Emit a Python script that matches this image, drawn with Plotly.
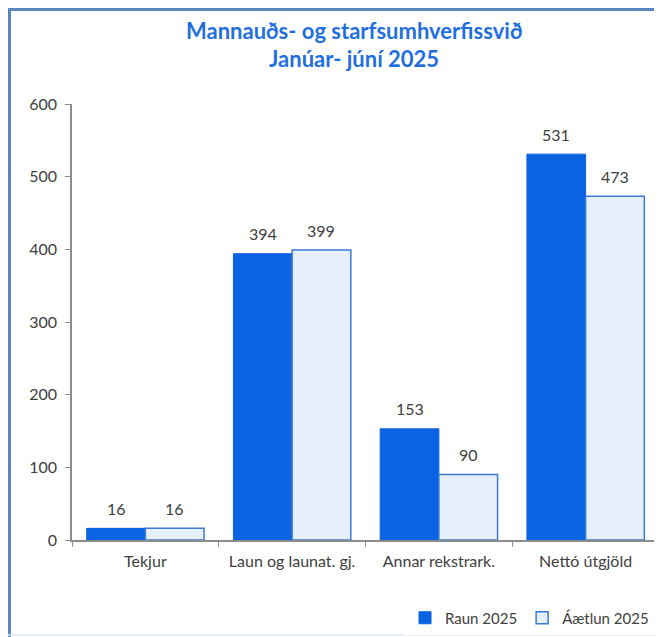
import plotly.graph_objects as go

categories = ["Tekjur", "Laun og launat. gj.", "Annar rekstrark.", "Nettó útgjöld"]
raun_2025 = [16, 394, 153, 531]
aaetlun_2025 = [16, 399, 90, 473]
series_names = ["Raun 2025", "Áætlun 2025"]
title_lines = ["Mannauðs- og starfsumhverfissvið", "Janúar- júní 2025"]
y_ticks = [0, 100, 200, 300, 400, 500, 600]

OFF = 8  # page body margin
W, H = 662 - OFF, 637 - OFF
L, R, T, B = 72 - OFF, 3, 104 - OFF, 97
PW, PH = W - L - R, H - T - B
BARGAP = 0.2

def px(x):
    return (x - OFF - L) / PW

def py(y):
    return (H - B - (y - OFF)) / PH

FONT = "Lato"
TXT = "#404040"
FS = 16

fig = go.Figure()
fig.add_trace(go.Bar(
    x=categories, y=raun_2025, name=series_names[0],
    marker=dict(color="#0A63E0", line=dict(color="#0A63E0", width=1)),
))
fig.add_trace(go.Bar(
    x=categories, y=aaetlun_2025, name=series_names[1],
    marker=dict(color="#E6F0FD", line=dict(color="#3B7BD6", width=1.5)),
))

# data labels, anchored to the bars through the axis scales
half_bar = PW / len(categories) * (1 - BARGAP) / 4
for vals, sh in ((raun_2025, -half_bar), (aaetlun_2025, half_bar)):
    for c, v in zip(categories, vals):
        fig.add_annotation(x=c, y=v, xref="x", yref="y", text=str(v), showarrow=False,
                           xshift=sh, yshift=20, yanchor="middle",
                           font=dict(family=FONT, size=FS, color=TXT))

fig.update_layout(
    width=W, height=H,
    margin=dict(l=L, r=R, t=T, b=B),
    paper_bgcolor="white", plot_bgcolor="white",
    barmode="group", bargap=BARGAP, bargroupgap=0,
    font=dict(family=FONT, size=FS, color=TXT),
    showlegend=True,
    legend=dict(orientation="h", x=px(654), xanchor="right", y=py(618), yanchor="middle",
                font=dict(family=FONT, size=15, color=TXT), itemwidth=30,
                traceorder="normal"),
    xaxis=dict(showline=True, linecolor="#8C8C8C", linewidth=1.5, ticks="outside",
               tickson="boundaries", ticklen=5, tickcolor="#8C8C8C", showgrid=False,
               ticklabelstandoff=6,
               tickfont=dict(family=FONT, size=FS, color=TXT)),
    yaxis=dict(range=[0, 600], tickvals=y_ticks, showline=True, linecolor="#8C8C8C",
               linewidth=1.5, ticks="outside", ticklen=5, tickcolor="#8C8C8C",
               showgrid=False, zeroline=False, ticklabelstandoff=5,
               tickfont=dict(family=FONT, size=FS, color=TXT)),
)

for i, yy in enumerate([30, 58]):
    fig.add_annotation(x=px(354), y=py(yy), xref="paper", yref="paper", showarrow=False,
                       text="<b>" + title_lines[i] + "</b>",
                       font=dict(family=FONT, size=22, color="#1F6FE0"),
                       xanchor="center", yanchor="middle")

# chart frame
fig.add_shape(type="line", xref="paper", yref="paper", x0=px(OFF), x1=px(662), y0=py(OFF + 1.5), y1=py(OFF + 1.5),
              line=dict(color="#5B85C0", width=3))
fig.add_shape(type="line", xref="paper", yref="paper", x0=px(OFF + 1.5), x1=px(OFF + 1.5), y0=py(OFF), y1=py(637),
              line=dict(color="#5B85C0", width=3))
fig.add_shape(type="line", xref="paper", yref="paper", x0=px(OFF), x1=px(662), y0=py(635), y1=py(635),
              line=dict(color="#E0E6F2", width=1.5))

fig.write_html("out.html")
